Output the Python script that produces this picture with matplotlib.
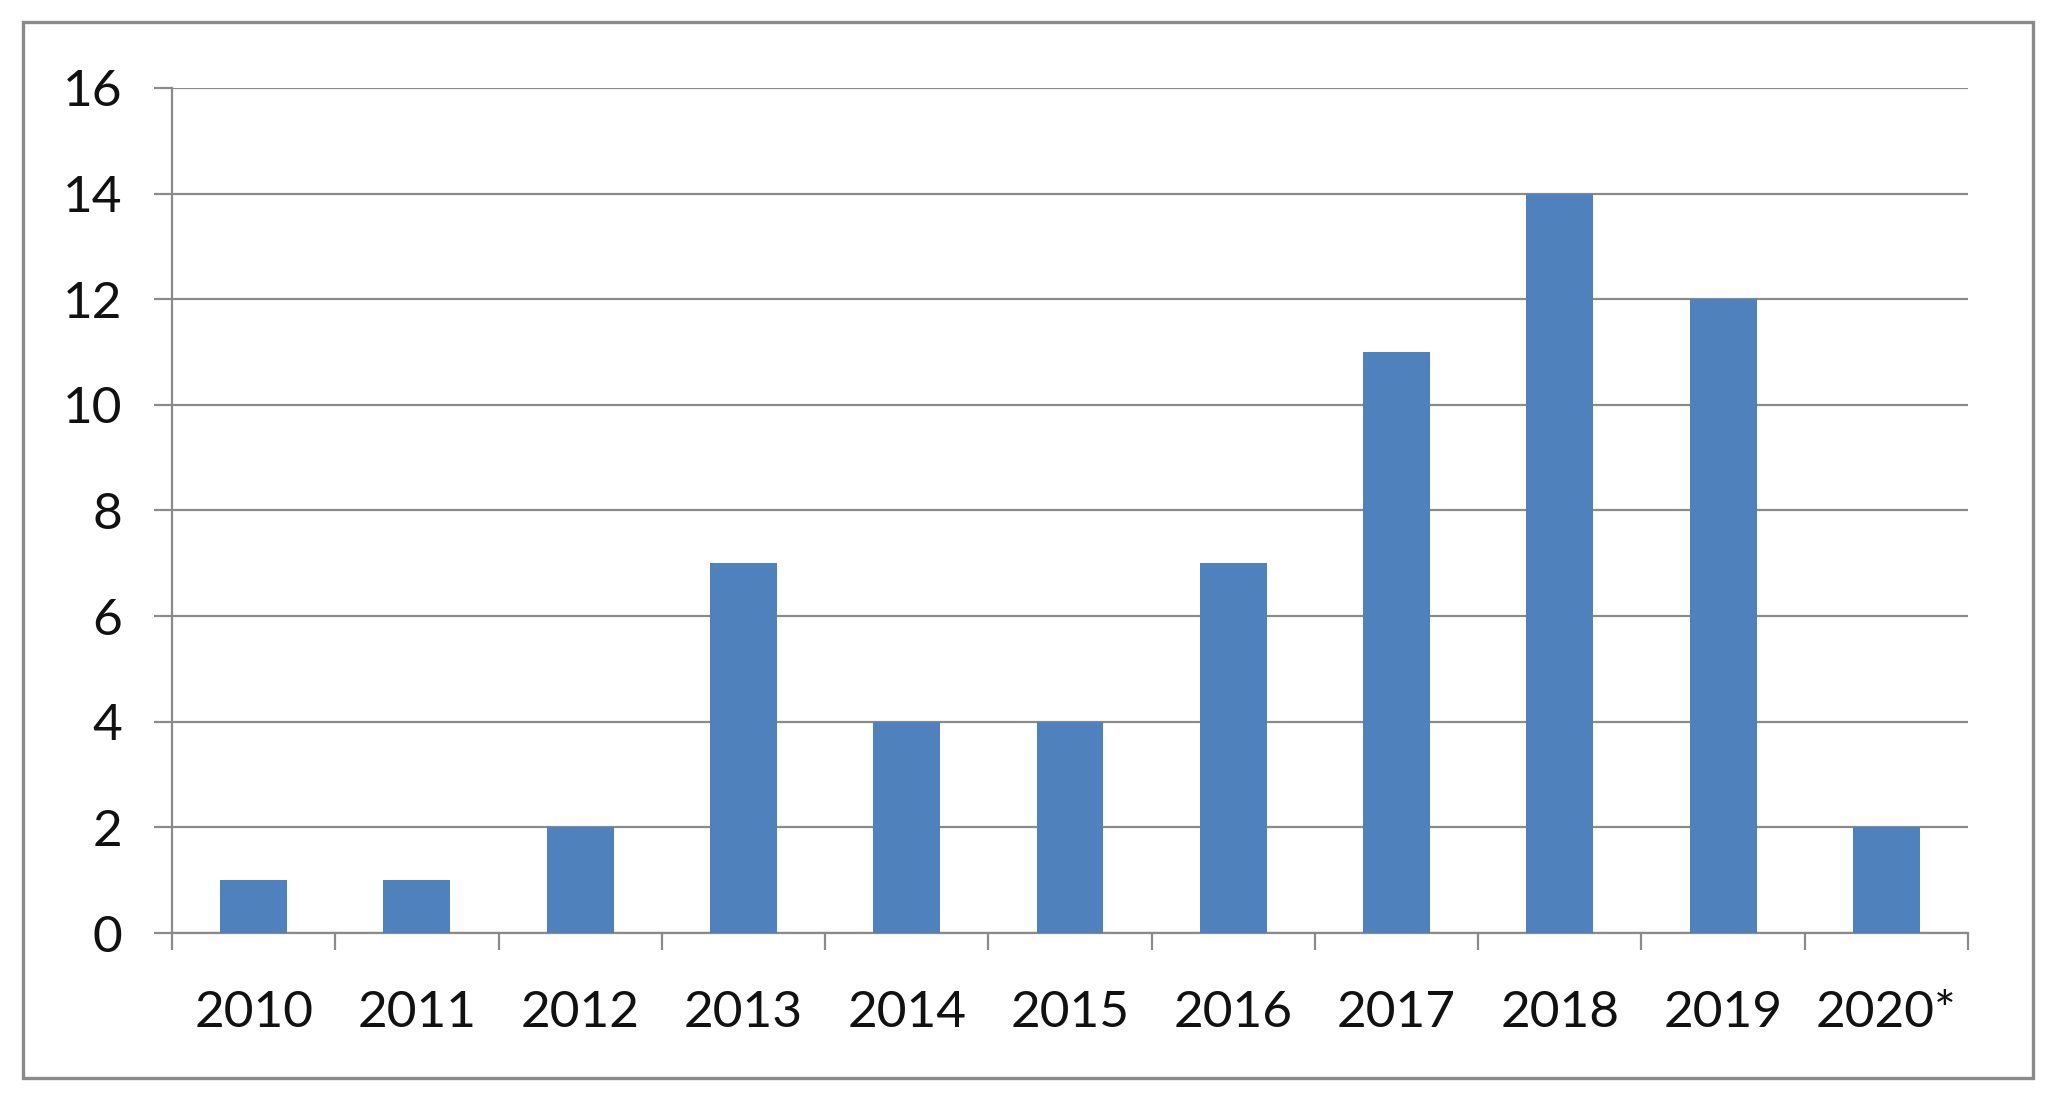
import matplotlib
matplotlib.use("Agg")
import matplotlib.pyplot as plt
import numpy as np
from matplotlib.patches import Rectangle

years = ["2010", "2011", "2012", "2013", "2014", "2015", "2016", "2017", "2018", "2019", "2020*"]
counts = [1, 1, 2, 7, 4, 4, 7, 11, 14, 12, 2]

plt.rcParams['font.family'] = ['Lato', 'DejaVu Sans']

fig = plt.figure(figsize=(20.6, 11.06), dpi=100)
ax = fig.add_axes([172 / 2060, 1 - 933 / 1106, (1968 - 172) / 2060, (933 - 88) / 1106])

x = np.arange(len(years))
ax.bar(x, counts, width=0.41, color='#4F81BD', zorder=3)

grid_col = '#8a8a8a'
ax.set_ylim(0, 16)
ax.set_xlim(-0.5, len(years) - 0.5)
ax.set_yticks(range(0, 17, 2))
ax.yaxis.grid(True, color=grid_col, linewidth=1.6, zorder=1)

# category labels at centres, tick marks on boundaries
ax.set_xticks(x)
ax.set_xticklabels(years)
ax.set_xticks(np.arange(-0.5, len(years), 1), minor=True)
ax.tick_params(axis='x', which='major', length=0, pad=41, labelsize=37, colors='#111111')
ax.tick_params(axis='x', which='minor', length=12, width=1.6, color=grid_col, direction='out')
ax.tick_params(axis='y', length=13, width=1.6, color=grid_col, pad=23, labelsize=37, labelcolor='#111111')

for side in ['top', 'right']:
    ax.spines[side].set_visible(False)
for side in ['left', 'bottom']:
    ax.spines[side].set_color(grid_col)
    ax.spines[side].set_linewidth(1.6)

# outer chart border
fig.patches.append(Rectangle((23 / 2060, 1 - 1078 / 1106), (2033 - 23) / 2060, (1078 - 22) / 1106,
                             transform=fig.transFigure, fill=False, edgecolor='#8a8a8a', linewidth=2.4))

fig.savefig("out.png", dpi=100, facecolor='white')
